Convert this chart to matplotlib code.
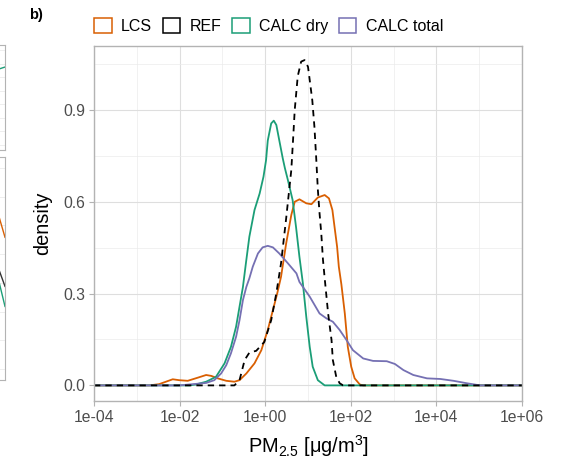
import numpy as np
import matplotlib
matplotlib.use('Agg')
import matplotlib.pyplot as plt
from matplotlib.patches import Patch
from matplotlib.ticker import FixedLocator, NullFormatter

plt.rcParams['font.family'] = ['Liberation Sans', 'DejaVu Sans']
plt.rcParams['mathtext.fontset'] = 'custom'
plt.rcParams['mathtext.rm'] = 'Liberation Sans'
plt.rcParams['mathtext.it'] = 'Liberation Sans:italic'

# densities, x given as log10(PM2.5)
lcs_logx = [-4, -2.71, -2.48, -2.16, -2.01, -1.81, -1.58, -1.38, -1.26, -1.11, -0.91, -0.72,
            -0.60, -0.44, -0.25, -0.09, 0.06, 0.18, 0.28, 0.37, 0.49, 0.61, 0.69, 0.80,
            0.96, 1.08, 1.23, 1.39, 1.49, 1.57, 1.62, 1.68, 1.72, 1.78, 1.86, 1.93,
            2.01, 2.09, 2.21, 2.29, 6]
lcs_dens = [0, 0, 0.004, 0.020, 0.017, 0.015, 0.025, 0.034, 0.031, 0.023, 0.015, 0.012,
            0.017, 0.039, 0.072, 0.115, 0.181, 0.246, 0.300, 0.355, 0.464, 0.557, 0.600, 0.608,
            0.595, 0.592, 0.614, 0.622, 0.611, 0.573, 0.518, 0.453, 0.388, 0.330, 0.235, 0.126,
            0.061, 0.023, 0.003, 0, 0]

ref_logx = [-4, -0.72, -0.60, -0.48, -0.37, -0.21, -0.02, 0.14, 0.26, 0.37, 0.49, 0.61,
            0.65, 0.69, 0.76, 0.84, 0.92, 1.00, 1.05, 1.10, 1.15, 1.19, 1.23, 1.27, 1.31,
            1.35, 1.39, 1.47, 1.55, 1.58, 1.66, 1.74, 1.82, 6]
ref_dens = [0, 0, 0.017, 0.083, 0.107, 0.113, 0.142, 0.213, 0.301, 0.399, 0.546, 0.704,
            0.800, 0.900, 1.010, 1.058, 1.063, 1.041, 0.987, 0.932, 0.845, 0.747, 0.640, 0.562, 0.497,
            0.410, 0.350, 0.235, 0.148, 0.083, 0.028, 0.007, 0, 0]

dry_logx = [-4, -1.77, -1.62, -1.38, -1.15, -0.95, -0.80, -0.68, -0.60, -0.52, -0.45, -0.37,
            -0.25, -0.13, -0.04, 0.02, 0.06, 0.14, 0.20, 0.26, 0.33, 0.41, 0.46, 0.53, 0.64,
            0.72, 0.80, 0.88, 0.96, 1.04, 1.11, 1.23, 1.39, 6]
dry_dens = [0, 0, 0.003, 0.012, 0.028, 0.072, 0.126, 0.192, 0.257, 0.322, 0.400, 0.486,
            0.573, 0.627, 0.682, 0.736, 0.800, 0.856, 0.865, 0.851, 0.800, 0.742, 0.710, 0.671, 0.606,
            0.518, 0.420, 0.334, 0.224, 0.126, 0.061, 0.017, 0, 0]

tot_logx = [-4, -2.01, -1.77, -1.38, -1.19, -1.03, -0.91, -0.80, -0.68, -0.60, -0.52, -0.44,
            -0.37, -0.29, -0.17, -0.06, 0.06, 0.18, 0.33, 0.53, 0.73, 0.80, 1.04, 1.27,
            1.43, 1.58, 1.74, 1.90, 2.05, 2.29, 2.52, 2.84, 3.03, 3.23, 3.46, 3.78, 4.09,
            4.40, 4.71, 5.02, 6]
tot_dens = [0, 0, 0.003, 0.008, 0.017, 0.039, 0.066, 0.105, 0.159, 0.213, 0.279, 0.322,
            0.350, 0.388, 0.431, 0.451, 0.456, 0.451, 0.431, 0.399, 0.366, 0.338, 0.290, 0.235,
            0.219, 0.208, 0.181, 0.148, 0.115, 0.088, 0.080, 0.079, 0.070, 0.050, 0.034, 0.023, 0.021,
            0.015, 0.007, 0, 0]

series = ['LCS', 'REF', 'CALC dry', 'CALC total']
colors = ['#D95F02', '#000000', '#1B9E77', '#7570B3']

x_breaks = [1e-4, 1e-2, 1e0, 1e2, 1e4, 1e6]
x_labels = ['1e-04', '1e-02', '1e+00', '1e+02', '1e+04', '1e+06']
x_minor = [1e-3, 1e-1, 1e1, 1e3, 1e5]
y_breaks = [0, 0.3, 0.6, 0.9]
y_labels = ['0.0', '0.3', '0.6', '0.9']
y_minor = [0.15, 0.45, 0.75, 1.05]

# bits of the neighbouring panel a) cut off at the left edge
left_top_green = [0.78, 0.78, 0.77, 0.79]
left_bot_orange = [0.70, 0.72, 0.74, 0.64]
left_bot_black = [0.52, 0.53, 0.50, 0.42]
left_bot_green = [0.44, 0.43, 0.45, 0.33]

fig = plt.figure(figsize=(5.66, 4.63), dpi=100)
W, H = 566, 463
ax = fig.add_axes([94 / W, 1 - 401 / H, 428 / W, 355 / H])

grey70 = '#B3B3B3'
ax.plot(10 ** np.array(lcs_logx), lcs_dens, color=colors[0], lw=1.3)
ax.plot(10 ** np.array(dry_logx), dry_dens, color=colors[2], lw=1.3)
ax.plot(10 ** np.array(tot_logx), tot_dens, color=colors[3], lw=1.3)
ax.plot(10 ** np.array(ref_logx), ref_dens, color=colors[1], lw=1.3, ls=(0, (3.5, 2.8)))

ax.set_xscale('log')
ax.set_xlim(1e-4, 1e6)
ax.set_ylim(-0.051, 1.109)
ax.set_xticks(x_breaks)
ax.set_xticklabels(x_labels)
ax.xaxis.set_minor_locator(FixedLocator(x_minor))
ax.xaxis.set_minor_formatter(NullFormatter())
ax.set_yticks(y_breaks)
ax.set_yticklabels(y_labels)
ax.yaxis.set_minor_locator(FixedLocator(y_minor))
ax.grid(True, which='major', color='#DEDEDE', lw=0.8)
ax.grid(True, which='minor', color='#EBEBEB', lw=0.5)
ax.set_axisbelow(True)
ax.tick_params(which='major', length=3.5, width=0.8, color=grey70,
               labelsize=11.3, labelcolor='#4D4D4D', pad=3)
ax.tick_params(which='minor', length=0)
for s in ax.spines.values():
    s.set_color(grey70)
    s.set_linewidth(1.0)

ax.set_ylabel('density', fontsize=14.4)
ax.yaxis.set_label_coords(-0.097, 0.5)
ax.set_xlabel(r'PM$_{\mathregular{2.5}}$ [μg/m$^{\mathregular{3}}$]', fontsize=14.4)
ax.xaxis.set_label_coords(0.5, -0.09)

handles = [Patch(facecolor='white', edgecolor=c, lw=1.1) for c in colors]
fig.legend(handles, series, loc='center left', bbox_to_anchor=(94 / W, 1 - 26 / H),
           ncol=4, frameon=False, fontsize=11.5, handlelength=1.1, handleheight=1.1,
           handletextpad=0.6, columnspacing=0.65, borderpad=0, borderaxespad=0)

fig.text(29 / W, 1 - 15 / H, 'b)', fontweight='bold', fontsize=10.5, va='center')

# partial panels on the left
for (y0, y1), lines in [((45, 150), [(left_top_green, '#1B9E77')]),
                        ((157, 380), [(left_bot_orange, '#D95F02'),
                                      (left_bot_black, '#333333'),
                                      (left_bot_green, '#1B9E77')])]:
    la = fig.add_axes([-60 / W, 1 - y1 / H, 65 / W, (y1 - y0) / H])
    la.set_xlim(0, 3)
    la.set_ylim(0, 1)
    for vals, c in lines:
        la.plot([1.5, 2.2, 2.7, 3.0], vals, color=c, lw=1.0)
    la.set_yticks(np.linspace(0.05, 0.95, 8))
    la.grid(True, axis='y', color='#EBEBEB', lw=0.6)
    la.set_xticks([])
    la.tick_params(length=0, labelleft=False)
    for s in la.spines.values():
        s.set_color(grey70)

fig.savefig('out.png', dpi=100)
